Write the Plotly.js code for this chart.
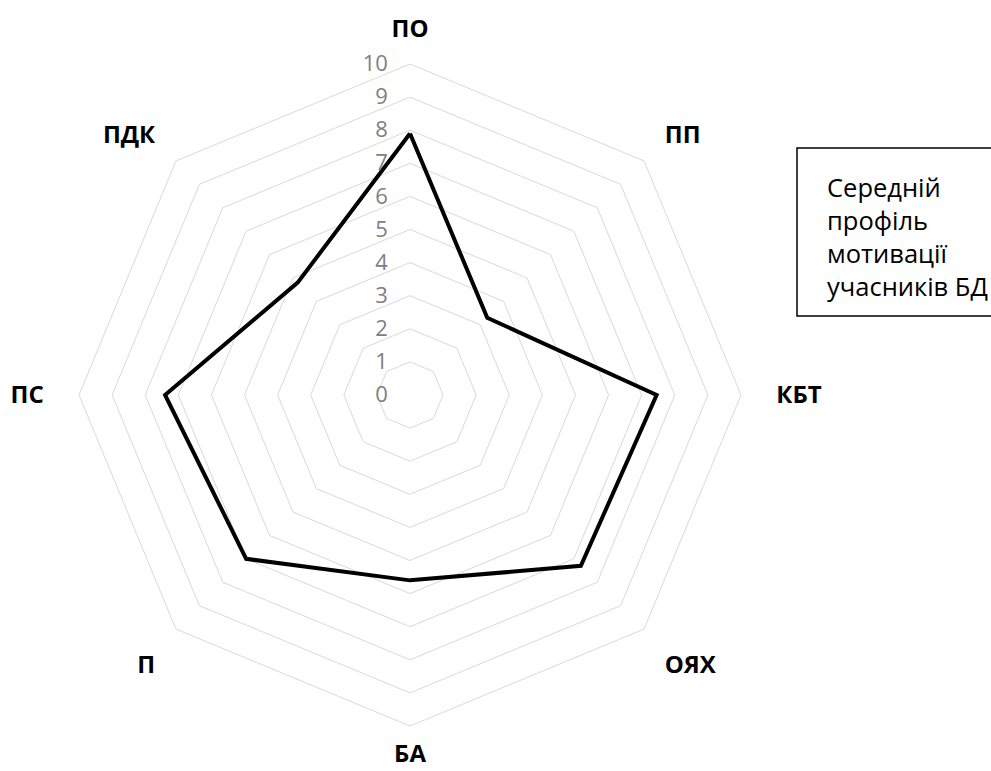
<!DOCTYPE html>
<html>
<head>
<meta charset="utf-8">
<script src="https://cdn.plot.ly/plotly-3.0.1.min.js"></script>
<style>html,body{margin:0;padding:0;background:#fff;}#chart{width:991px;height:771px;}</style>
</head>
<body>
<div id="chart"></div>
<script>
const categories = ["ПО", "ПП", "КБТ", "ОЯХ", "БА", "П", "ПС", "ПДК"];
const values = [7.9, 3.3, 7.45, 7.3, 5.6, 7.0, 7.4, 4.8];
const seriesName = "Середній<br>профіль<br>мотивації<br>учасників БД";
const radialTicks = [0, 1, 2, 3, 4, 5, 6, 7, 8, 9, 10];
// label groups (Excel puts labels at different distances per direction)
const diagLabels = ["ПП", "ОЯХ", "П", "ПДК"];
const topLabels = ["ПО"];
const bottomLabels = ["БА"];
const sideLabels = ["КБТ", "ПС"];

const W = 991, H = 771;
const dom = {x: [79 / W, 741 / W], y: [1 - 726 / H, 1 - 64 / H]};
const labelFont = {family: "Open Sans, sans-serif", size: 24, color: "#000000", weight: "bold"};

function textsFor(group) {
  return categories.map(c => group.includes(c) ? c : "");
}

function mkTrace(subplot, color) {
  return {
    type: "scatterpolar",
    subplot: subplot,
    r: values.concat([values[0]]),
    theta: categories.concat([categories[0]]),
    mode: "lines",
    line: {color: color, width: 4},
    showlegend: false,
    hoverinfo: "skip"
  };
}

function overlayPolar(group, len) {
  return {
    domain: dom,
    bgcolor: "rgba(0,0,0,0)",
    gridshape: "linear",
    angularaxis: {
      direction: "clockwise", rotation: 90,
      categoryarray: categories,
      showgrid: false, showline: false,
      tickmode: "array", tickvals: categories, ticktext: textsFor(group),
      ticks: "outside", ticklen: len, tickcolor: "rgba(0,0,0,0)",
      tickfont: labelFont
    },
    radialaxis: {range: [0, 10], visible: false, showgrid: false}
  };
}

const layout = {
  width: W, height: H,
  margin: {l: 0, r: 0, t: 0, b: 0},
  paper_bgcolor: "#ffffff",
  showlegend: false,
  font: {family: "Open Sans, sans-serif"},
  polar: {
    domain: dom,
    bgcolor: "#ffffff",
    gridshape: "linear",
    angularaxis: {
      direction: "clockwise",
      rotation: 90,
      categoryarray: categories,
      showgrid: false,
      showline: true,
      linecolor: "#d9d9d9",
      linewidth: 1,
      tickmode: "array", tickvals: categories, ticktext: textsFor(diagLabels),
      ticks: "outside",
      ticklen: 24,
      tickcolor: "rgba(0,0,0,0)",
      tickfont: labelFont
    },
    radialaxis: {
      range: [0, 10],
      angle: 90,
      side: "counterclockwise",
      tickvals: radialTicks,
      ticktext: radialTicks.map(String),
      showline: false,
      ticks: "outside",
      ticklen: 14,
      tickcolor: "rgba(0,0,0,0)",
      showgrid: true,
      gridcolor: "#d9d9d9",
      gridwidth: 1,
      tickangle: 90,
      tickfont: {family: "Open Sans, sans-serif", size: 22, color: "#808080"}
    }
  },
  polar2: overlayPolar(topLabels, 17),
  polar3: overlayPolar(sideLabels, 30),
  polar4: overlayPolar(bottomLabels, 7),
  shapes: [{
    type: "rect", xref: "paper", yref: "paper",
    x0: 797 / W, x1: 1.02, y0: 1 - 316 / H, y1: 1 - 148 / H,
    line: {color: "#000000", width: 1.5}, fillcolor: "rgba(0,0,0,0)"
  }],
  annotations: [{
    xref: "paper", yref: "paper",
    x: 825 / W, xanchor: "left",
    y: 1 - 236 / H, yanchor: "middle",
    text: seriesName, align: "left", showarrow: false,
    font: {family: "Open Sans, sans-serif", size: 25.5, color: "#000000"}
  }]
};

Plotly.newPlot("chart", [
  mkTrace("polar2", "rgba(0,0,0,0)"),
  mkTrace("polar3", "rgba(0,0,0,0)"),
  mkTrace("polar4", "rgba(0,0,0,0)"),
  mkTrace("polar", "#000000")
], layout, {staticPlot: true, displayModeBar: false});
</script>
</body>
</html>
